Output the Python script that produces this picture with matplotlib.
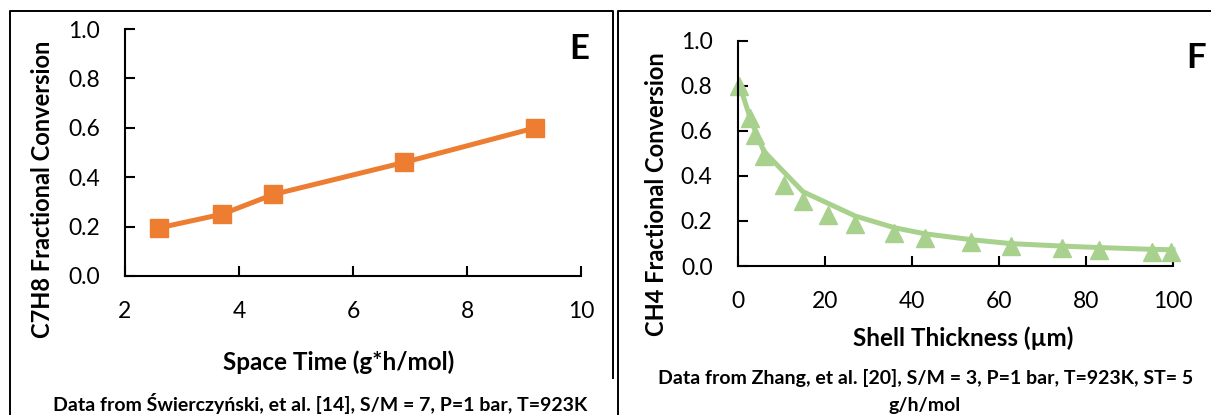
import numpy as np
import matplotlib
matplotlib.use('Agg')
import matplotlib.pyplot as plt
from matplotlib.lines import Line2D

plt.rcParams['font.family'] = ['Lato', 'DejaVu Sans']

# panel E data
space_time = [2.6, 3.7, 4.6, 6.9, 9.2]
c7h8_conv = [0.195, 0.25, 0.33, 0.46, 0.60]

# panel F data (measured points)
shell_data = [0.35, 2.8, 4.0, 6.1, 10.7, 15.0, 20.7, 27.0, 36.0, 43.0, 53.6, 62.9, 74.5, 83.0, 95.2, 99.6]
ch4_data = [0.80, 0.655, 0.58, 0.49, 0.36, 0.29, 0.226, 0.186, 0.145, 0.126, 0.105, 0.09, 0.081, 0.071, 0.064, 0.06]

# panel F model curve
shell_model = [0.5, 3.0, 6.0, 15.0, 27.0, 36.0, 43.0, 54.0, 63.0, 75.0, 83.0, 95.0, 100.0]
ch4_model = [0.80, 0.65, 0.51, 0.33, 0.222, 0.17, 0.143, 0.116, 0.099, 0.088, 0.082, 0.074, 0.072]

orange = '#ED7D31'
green = '#A9D18E'

W, H = 1211, 415
fig = plt.figure(figsize=(W / 100, H / 100), dpi=100)


def px(x, y):
    return x / W, 1 - y / H


def style_axes(ax):
    for s in ['top', 'right']:
        ax.spines[s].set_visible(False)
    for s in ['left', 'bottom']:
        ax.spines[s].set_linewidth(1.5)
        ax.spines[s].set_color('black')
    ax.tick_params(direction='in', length=7, width=1.5, labelsize=16.5, pad=18, colors='black')


# ---- panel E ----
ax1 = fig.add_axes([125 / W, 1 - 276 / H, (581 - 125) / W, (276 - 29) / H])
ax1.plot(space_time, c7h8_conv, color=orange, lw=3.6, marker='s', ms=13.5, clip_on=False)
ax1.set_xlim(2, 10)
ax1.set_ylim(0, 1)
ax1.set_xticks([2, 4, 6, 8, 10])
ax1.set_yticks(np.arange(0, 1.01, 0.2))
ax1.set_yticklabels(['%.1f' % v for v in np.arange(0, 1.01, 0.2)])
style_axes(ax1)

fig.text(*px(339, 362), 'Space Time (g*h/mol)', ha='center', va='center', fontsize=17.5, fontweight='bold')
fig.text(*px(43, 189), 'C7H8 Fractional Conversion', ha='center', va='center', rotation=90,
         fontsize=17, fontweight='bold')
fig.text(*px(320, 403), 'Data from Świerczyński, et al. [14], S/M = 7, P=1 bar, T=923K',
         ha='center', va='center', fontsize=14, fontweight='bold')
fig.text(*px(579, 49), 'E', ha='center', va='center', fontsize=25, fontweight='bold')

# ---- panel F ----
ax2 = fig.add_axes([737.6 / W, 1 - 266 / H, (1173 - 737.6) / W, (266 - 40.7) / H])
ax2.plot(shell_model, ch4_model, color=green, lw=3.6, clip_on=False)
ax2.plot(shell_data, ch4_data, color=green, lw=0, marker='^', ms=12.5, clip_on=False)
ax2.set_xlim(0, 100)
ax2.set_ylim(0, 1)
ax2.set_xticks(np.arange(0, 101, 20))
ax2.set_yticks(np.arange(0, 1.01, 0.2))
ax2.set_yticklabels(['%.1f' % v for v in np.arange(0, 1.01, 0.2)])
style_axes(ax2)

fig.text(*px(963, 338), 'Shell Thickness (µm)', ha='center', va='center', fontsize=17.5, fontweight='bold')
fig.text(*px(656, 194), 'CH4 Fractional Conversion', ha='center', va='center', rotation=90,
         fontsize=17, fontweight='bold')
fig.text(*px(926, 378), 'Data from Zhang, et al. [20], S/M = 3, P=1 bar, T=923K, ST= 5',
         ha='center', va='center', fontsize=14, fontweight='bold')
fig.text(*px(925, 405), 'g/h/mol', ha='center', va='center', fontsize=14, fontweight='bold')
fig.text(*px(1196, 58), 'F', ha='center', va='center', fontsize=25, fontweight='bold')

# ---- panel borders ----
def fig_line(xs, ys):
    fig.add_artist(Line2D([x / W for x in xs], [1 - y / H for y in ys],
                          color='black', lw=1.4, transform=fig.transFigure))


fig_line([10.5, 10.5, 613, 613], [415, 11, 11, 378])
fig_line([618, 618, 1211], [415, 11, 11])

fig.savefig('out.png', dpi=100)
